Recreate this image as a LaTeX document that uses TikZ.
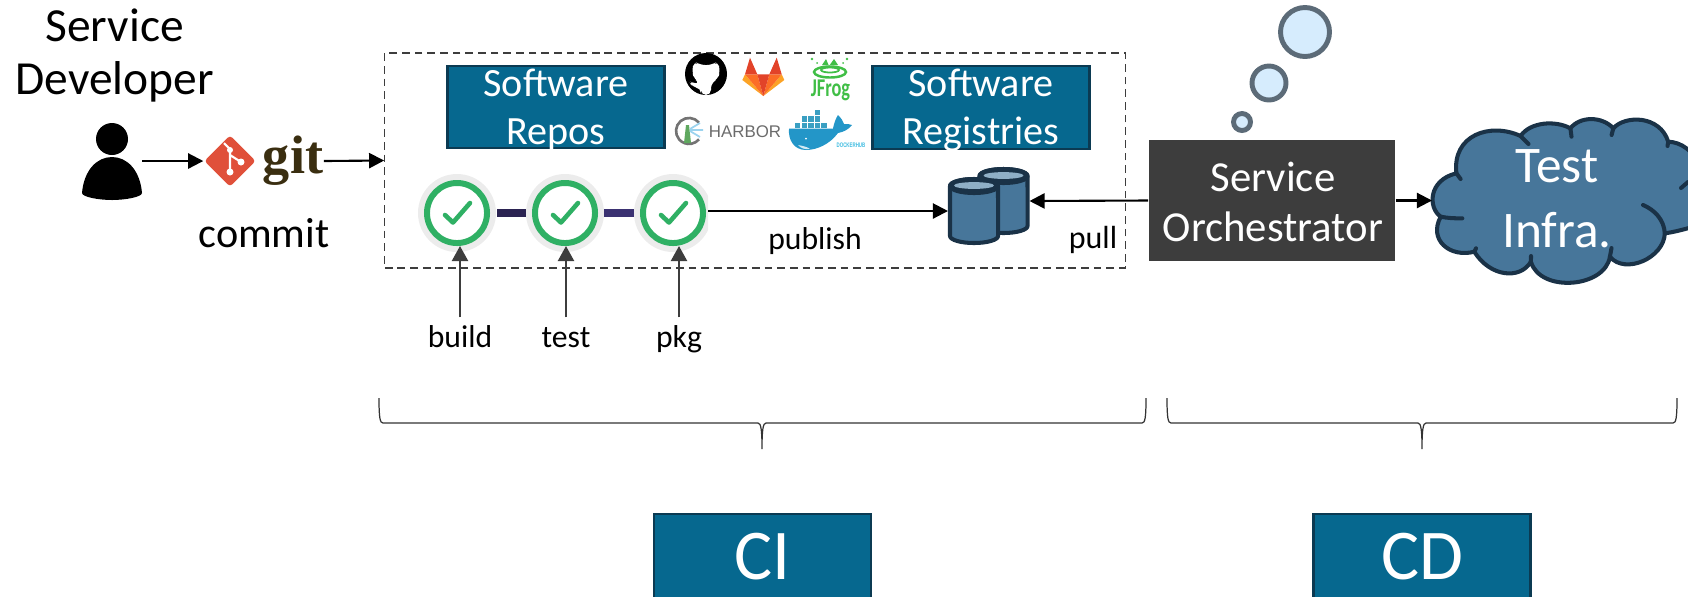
\documentclass[tikz,border=0pt]{standalone}
\usepackage{fontspec}
\usepackage{xcolor}
\setmainfont{Carlito}
\newfontfamily\logosans{Liberation Sans}
\newfontfamily\logoserif{Liberation Serif}
\usetikzlibrary{positioning,arrows.meta,shapes.geometric}

\definecolor{boxblue}{HTML}{06688F}
\definecolor{boxedge}{HTML}{0B3A52}
\definecolor{cloudblue}{HTML}{47769A}
\definecolor{cloudedge}{HTML}{1A3247}
\definecolor{storetop}{HTML}{8FAFC6}
\definecolor{darkbox}{HTML}{3D3D3D}
\definecolor{okgreen}{HTML}{2FB064}
\definecolor{halo}{HTML}{ECECEC}
\definecolor{barone}{HTML}{2B2352}
\definecolor{bartwo}{HTML}{3B3272}
\definecolor{bubble}{HTML}{D6ECFD}
\definecolor{bubbleedge}{HTML}{5C6B78}
\definecolor{frog}{HTML}{40BE46}
\definecolor{whale}{HTML}{2396C8}
\definecolor{crate}{HTML}{3A9FC2}
\definecolor{gitred}{HTML}{E0503A}
\definecolor{gitbrown}{HTML}{3A2E10}
\definecolor{labred}{HTML}{E24329}
\definecolor{laborange}{HTML}{FC6D26}
\definecolor{labyellow}{HTML}{FCA326}
\definecolor{harborgreen}{HTML}{5FA85F}
\definecolor{harborblue}{HTML}{9BD3EE}
\definecolor{hubblue}{HTML}{3DBBE0}

\tikzset{
	bluebox/.style={draw=boxedge, line width=0.75pt, fill=boxblue, inner sep=0pt},
	boxtext/.style={text=white, align=center, inner sep=0pt},
	flowarrow/.style={line width=0.6pt, -{Triangle[length=4.3pt,width=4.3pt]}},
	stagearrow/.style={line width=0.6pt, draw=darkbox, -{Triangle[length=4.3pt,width=4.6pt,fill=darkbox]}},
	stagecheck/.style={circle, draw=okgreen, fill=white, line width=1.7pt, minimum size=0.6cm, inner sep=0pt},
	tick/.style={draw=okgreen, line width=1.3pt, line cap=round, line join=round},
	stagelabel/.style={font=\fontsize{9}{10}\selectfont, text height=6.4pt, text depth=2pt, inner sep=2pt, outer sep=0pt},
	smalltext/.style={font=\fontsize{9.1}{10}\selectfont, anchor=base, inner sep=0pt},
	thought/.style={draw=bubbleedge, fill=bubble, line width=1.4pt},
	storebox/.style={minimum width=0.52cm, minimum height=0.68cm, inner sep=0pt, outer sep=0pt},
	curly/.style={draw=black!80, line width=0.35pt},
	cloudline/.style={draw=cloudedge, line width=1.15pt, line cap=round, line join=round}
}

\begin{document}
\begin{tikzpicture}[x=0.01cm, y=-0.01cm]
\useasboundingbox (0,0) rectangle (1688,596);

% Dashed CI frame
\node[draw=darkbox, dashed, dash pattern=on 2.2pt off 1.4pt, line width=0.35pt, minimum width=7.40cm, minimum height=2.15cm, inner sep=0pt] (ciframe) at (755,160.5) {};

% Developer and git
\node[font=\fontsize{13.5}{14.8}\selectfont, align=center, inner sep=0pt] (developer) at (114.5,55.5) {Service\\Developer};
\fill (112,139) circle (16);
\fill (82,193) .. controls (84,170) and (97,157) .. (112,157) .. controls (127,157) and (140,170) .. (142,193) .. controls (142,197) and (125,200) .. (112,200) .. controls (99,200) and (82,197) .. (82,193) -- cycle;
\coordinate (personright) at (142,161);

\node[diamond, fill=gitred, minimum width=0.52cm, minimum height=0.52cm, inner sep=0pt, rounded corners=1pt] (gitmark) at (230,161) {};
\draw[white, line width=0.6pt] (224,143) -- (230,149) -- (230,172) (230,155) -- (241,162);
\fill[white] (230,150) circle (3) (230,172) circle (3.5) (241,162) circle (3.5);
\node[font=\logoserif\bfseries\fontsize{15.4}{16}\selectfont, text=gitbrown, anchor=base, inner sep=0pt] (gitword) at (293,173) {git};
\node[font=\fontsize{12}{13}\selectfont, anchor=base, inner sep=0pt] (commit) at (264,247) {commit};
\draw[flowarrow] (personright) -- (gitmark.west);
\draw[flowarrow] (gitword.east |- gitmark) -- (ciframe.west);

% Repo and registry boxes
\node[bluebox, minimum width=2.17cm, minimum height=0.82cm] (repos) at (556,107) {};
\node[bluebox, minimum width=2.17cm, minimum height=0.83cm] (registries) at (981,107.5) {};
\node[boxtext, font=\fontsize{11.4}{13.6}\selectfont] (repostext) at (556,110) {Software\\Repos};
\node[boxtext, font=\fontsize{11.4}{13.6}\selectfont] (regtext) at (981,110) {Software\\Registries};

% GitHub
\fill (706,74) circle (21);
\fill[white, rounded corners=1.5] (694,61) -- (700,65) -- (712,65) -- (718,61) -- (720,71) -- (718,79) -- (711,83) -- (711,95) -- (701,95) -- (701,88) -- (692,87) -- (689,81) -- (695,84) -- (700,83) -- (694,79) -- (692,71) -- cycle;
% GitLab
\fill[labyellow] (745,74.3) -- (742.3,80) -- (763.3,96) -- cycle (781.7,74.3) -- (784.3,80) -- (763.3,96) -- cycle;
\fill[laborange] (745,74.3) -- (757.3,74.3) -- (763.3,96) -- cycle (781.7,74.3) -- (769.3,74.3) -- (763.3,96) -- cycle;
\fill[labred] (757.3,74.3) -- (769.3,74.3) -- (763.3,96) -- cycle (745,74.3) -- (750,57.7) -- (757.3,74.3) -- cycle (781.7,74.3) -- (776.7,57.7) -- (769.3,74.3) -- cycle;
% JFrog
\draw[frog, line width=0.7pt] (830,72) ellipse (16 and 5.5);
\draw[frog, line width=0.5pt] (830,70) ellipse (9 and 2.5);
\fill[frog] (822,65) -- (826,59) -- (829,66) -- (834,59) -- (838,65) -- cycle;
\fill[frog] (812,59) circle (1.3) (847,59) circle (1.3) (817,63) circle (1) (843,63) circle (1);
\node[font=\bfseries\fontsize{5.2}{6}\selectfont, text=frog, anchor=base, inner sep=0pt] (jfrog) at (830.5,96.5) {\scalebox{1}[1.4]{JFrog}};
% Harbor
\draw[black!55, line width=0.75pt] (699,122.6) arc[start angle=40, end angle=320, radius=0.13cm];
\fill[harborgreen] (684,143) -- (686,125) -- (689,125) -- (691,143) -- cycle;
\draw[harborblue, line width=0.5pt] (690,129) -- (700,123) (690,130) -- (703,130) (690,131) -- (700,137);
\node[font=\logosans\fontsize{4.8}{6}\selectfont, text=black!58, anchor=base, inner sep=0pt] (harbor) at (745,137) {HARBOR};
% Docker whale
\foreach \cx/\cy in {794/122,801/122,807.5/122,814/122,820.5/122,801/115.5,807.5/115.5,814/115.5,814/109}
	\fill[crate, draw=white, line width=0.15pt] (\cx,\cy) rectangle ++(6.3,6.3);
\fill[whale] (789,128.5) -- (833,128.5) .. controls (834,123) and (836,118) .. (838,115) .. controls (841,118) and (843,121) .. (844,124) .. controls (847,124) and (850,124) .. (852,125) .. controls (849,129) and (844,132) .. (838,133) .. controls (830,144) and (817,150) .. (806,150) .. controls (794,150) and (788,140) .. (789,128.5) -- cycle;
\fill[white!80!whale] (798,145) .. controls (803,146) and (808,147) .. (810,149) .. controls (806,150) and (800,148) .. (798,145) -- cycle;
\fill[white] (806,138.5) circle (1);
\node[font=\logosans\bfseries\fontsize{1.25}{2}\selectfont, text=hubblue, anchor=base, inner sep=0pt] (dockerhub) at (851,147) {\scalebox{1}[1.5]{DOCKERHUB}};

% Pipeline stages
\begin{scope}
\clip (410,170) rectangle (708,256);
\foreach \x in {457,565,673}
	\fill[halo] (\x,213) circle (39);
\end{scope}
\fill[barone] (497,209) rectangle (526,217);
\fill[bartwo] (604,209) rectangle (634,217);
\foreach \x/\n in {457/1,565/2,673/3} {
	\node[stagecheck] (check\n) at (\x,213) {};
	\draw[tick] (\x-12,215) -- (\x-4,222.5) -- (\x+13,203);
}

\node[stagelabel, anchor=base] (build) at (460,347) {build};
\node[stagelabel, anchor=base] (test) at (566,347) {test};
\node[stagelabel, anchor=base] (pkg) at (679,347) {pkg};
\draw[stagearrow] (build.north) -- (build.north |- check1.south);
\draw[stagearrow] (test.north) -- (test.north |- check2.south);
\draw[stagearrow] (pkg.north) -- (pkg.north |- check3.south);

% Artifact store
\foreach \cx/\cy/\n in {1003.5/201/dbback,974/211/dbfront} {
	\node[storebox] (\n) at (\cx,\cy) {};
	\filldraw[cloudline, fill=cloudblue] (\cx-24,\cy-25) -- (\cx-24,\cy+25) arc[start angle=180, end angle=360, x radius=0.24cm, y radius=0.07cm] -- (\cx+24,\cy-25) arc[start angle=0, end angle=180, x radius=0.24cm, y radius=0.07cm] -- cycle;
	\filldraw[cloudline, fill=cloudedge] (\cx,\cy-25) ellipse (24 and 7);
	\fill[storetop] (\cx,\cy-25.5) ellipse (20 and 3.4);
}
\draw[flowarrow, shorten <=0.02cm] (check3.east |- dbfront.west) -- (dbfront.west);
\node[smalltext, font=\fontsize{9}{10}\selectfont] (publish) at (815,249) {publish};
\node[smalltext] (pull) at (1093,248) {pull};

% Orchestrator with its thought bubbles
\node[fill=darkbox, text=white, align=center, inner sep=0pt, minimum width=2.46cm, minimum height=1.21cm] (orchestrator) at (1272,200.5) {};
\node[boxtext, font=\fontsize{12.15}{14.3}\selectfont] (orchtext) at (1273,202) {Service\\Orchestrator};
\draw[thought] (1305,32) circle (24.5);
\draw[thought] (1269,83) circle (17);
\draw[thought] (1242,122) circle (8.5);
\draw[flowarrow] (orchestrator.west) -- (dbback.east);

% Test infrastructure cloud
\begin{scope}
\clip (1400,100) rectangle (1688,300);
\filldraw[cloudline, fill=cloudblue] (1440.7,216.7)
	.. controls (1428,208) and (1428,180) .. (1456.4,173.3)
	.. controls (1452,135) and (1490,122) .. (1520.6,136)
	.. controls (1530,122) and (1555,120) .. (1570.4,128.3)
	.. controls (1580,116) and (1602,116) .. (1613.3,128.3)
	.. controls (1625,115) and (1660,115) .. (1668.2,141.7)
	.. controls (1680,142) and (1695,150) .. (1700,170)
	-- (1700,225)
	.. controls (1685,229) and (1675,232) .. (1664.8,233.3)
	.. controls (1664,258) and (1625,275) .. (1609.9,256.7)
	.. controls (1605,288) and (1540,293) .. (1530.9,261.7)
	.. controls (1520,280) and (1490,277) .. (1474.3,251.7)
	.. controls (1450,258) and (1428,240) .. (1440.7,216.7) -- cycle;
\draw[cloudline] (1456.4,173.3) -- (1460.6,179) (1520.6,136) -- (1528.5,144) (1570.4,128.3) -- (1571.5,136.7) (1613.3,128.3) -- (1611.6,135) (1668.2,141.7) -- (1667.5,146) (1688,182) -- (1681,188) (1609.9,256.7) -- (1611.5,248) (1474.3,251.7) -- (1476,248.3) (1530.9,261.7) -- (1531,256);
\draw[cloudline] (1643,205) .. controls (1655,210) and (1664,220) .. (1664.8,233.3);
\draw[cloudline] (1440.7,216.7) .. controls (1447,218) and (1455,218.5) .. (1462.3,218.3);
\end{scope}
\coordinate (cloudwest) at (1432,200.5);
\node[boxtext, font=\fontsize{14.6}{18.5}\selectfont] (infra) at (1557,199) {Test\\Infra.};
\draw[flowarrow] (orchestrator.east) -- (cloudwest);

% Braces
\draw[curly] (379,398) .. controls (379,418) and (380,423) .. (383,423) -- (758,423) .. controls (761,423) and (762,430) .. (762,449) .. controls (762,430) and (763,423) .. (766,423) -- (1142,423) .. controls (1145,423) and (1146,418) .. (1146,398);
\draw[curly] (1167,398) .. controls (1167,418) and (1168,423) .. (1171,423) -- (1418,423) .. controls (1421,423) and (1422,430) .. (1422,449) .. controls (1422,430) and (1423,423) .. (1426,423) -- (1673,423) .. controls (1676,423) and (1677,418) .. (1677,398);

% Bottom boxes
\node[bluebox, boxtext, draw=boxedge, minimum width=2.17cm, minimum height=0.86cm, font=\fontsize{20.3}{22}\selectfont] (ci) at (762.5,557) {CI};
\node[bluebox, boxtext, draw=boxedge, minimum width=2.17cm, minimum height=0.86cm, font=\fontsize{20.3}{22}\selectfont] (cd) at (1422,557) {CD};

\end{tikzpicture}
\end{document}
